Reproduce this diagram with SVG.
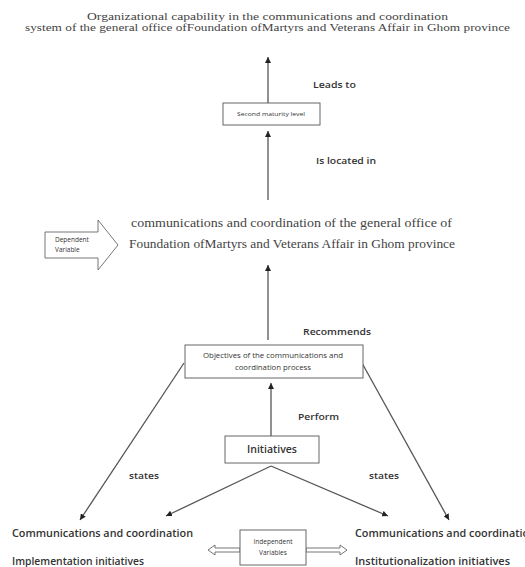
<svg xmlns="http://www.w3.org/2000/svg" width="525" height="567" viewBox="0 0 525 567">
<defs>
<marker id="ah" viewBox="0 0 10 10" refX="10" refY="5" markerWidth="6" markerHeight="6" markerUnits="userSpaceOnUse" orient="auto">
<path d="M0,0 L10,5 L0,10 z" fill="#222"/>
</marker>
<style>
.serif{font-family:"Liberation Serif","DejaVu Serif",serif;font-size:12px;fill:#444}
.title{font-size:10.5px}
.lbl{font-family:"Open Sans","Liberation Sans",sans-serif;font-weight:600;fill:#333}
.small{font-family:"Open Sans","Liberation Sans",sans-serif;fill:#333}
.box{fill:#fff;stroke:#666;stroke-width:1}
.conn{stroke:#555;stroke-width:1.3;fill:none;marker-end:url(#ah)}
.hollow{fill:#fff;stroke:#666;stroke-width:0.9}
</style>
</defs>
<rect width="525" height="567" fill="#fff"/>

<g id="title">
<text class="serif title" x="87" y="19.5" textLength="361" lengthAdjust="spacingAndGlyphs">Organizational capability in the communications and coordination</text>
<text class="serif title" x="25" y="31" textLength="485" lengthAdjust="spacingAndGlyphs">system of the general office ofFoundation ofMartyrs and Veterans Affair in Ghom province</text>
</g>

<g id="connectors">
<line class="conn" x1="268" y1="103" x2="268" y2="57"/>
<line class="conn" x1="268" y1="200" x2="268" y2="131"/>
<line class="conn" x1="268" y1="340" x2="268" y2="265"/>
<line class="conn" x1="271" y1="436" x2="271" y2="383"/>
<line class="conn" x1="184" y1="363" x2="80" y2="520"/>
<line class="conn" x1="362" y1="363" x2="449" y2="520"/>
<line class="conn" x1="271" y1="466" x2="166" y2="516"/>
<line class="conn" x1="271" y1="466" x2="388" y2="516"/>
</g>

<g id="labels">
<text class="lbl" x="313" y="88" font-size="9" textLength="43" lengthAdjust="spacingAndGlyphs">Leads to</text>
<text class="lbl" x="316" y="164" font-size="9" textLength="60" lengthAdjust="spacingAndGlyphs">Is located in</text>
<text class="lbl" x="303" y="335" font-size="9.5" textLength="68" lengthAdjust="spacingAndGlyphs">Recommends</text>
<text class="lbl" x="298" y="420" font-size="9.5" textLength="41" lengthAdjust="spacingAndGlyphs">Perform</text>
<text class="lbl" x="129" y="479" font-size="9" textLength="30" lengthAdjust="spacingAndGlyphs">states</text>
<text class="lbl" x="369" y="479" font-size="9" textLength="30" lengthAdjust="spacingAndGlyphs">states</text>
</g>

<g id="second-maturity">
<rect class="box" x="223" y="103" width="97" height="22"/>
<text class="small" x="271" y="116" font-size="6" text-anchor="middle" textLength="68" lengthAdjust="spacingAndGlyphs">Second maturity level</text>
</g>

<g id="dependent">
<text class="serif" x="131" y="227" textLength="321" lengthAdjust="spacingAndGlyphs">communications and coordination  of the general office of</text>
<text class="serif" x="129" y="248" textLength="326" lengthAdjust="spacingAndGlyphs">Foundation ofMartyrs and Veterans Affair in Ghom province</text>
</g>

<g id="dependent-variable">
<polygon class="hollow" points="45,232 98,232 98,220 118,245 98,270 98,258 45,258"/>
<text class="small" x="55" y="242" font-size="6.5">Dependent</text>
<text class="small" x="55" y="252" font-size="6.5">Variable</text>
</g>

<g id="objectives">
<rect class="box" x="185" y="345" width="178" height="33"/>
<text class="small" x="273" y="358" font-size="6.5" text-anchor="middle" textLength="140" lengthAdjust="spacingAndGlyphs">Objectives of the communications and</text>
<text class="small" x="273" y="370" font-size="6.5" text-anchor="middle" textLength="76" lengthAdjust="spacingAndGlyphs">coordination process</text>
</g>

<g id="initiatives">
<rect class="box" x="225" y="436" width="94" height="27"/>
<text class="lbl" x="272" y="453" font-size="10" font-weight="700" text-anchor="middle" textLength="50" lengthAdjust="spacingAndGlyphs">Initiatives</text>
</g>

<g id="implementation">
<text class="lbl" x="12" y="537" font-size="10" textLength="181" lengthAdjust="spacingAndGlyphs">Communications and coordination</text>
<text class="lbl" x="12" y="565" font-size="10" textLength="132" lengthAdjust="spacingAndGlyphs">Implementation initiatives</text>
</g>

<g id="institutionalization">
<text class="lbl" x="355" y="537" font-size="10" textLength="181" lengthAdjust="spacingAndGlyphs">Communications and coordination</text>
<text class="lbl" x="355" y="565" font-size="10" textLength="155" lengthAdjust="spacingAndGlyphs">Institutionalization initiatives</text>
</g>

<g id="independent-variables">
<polygon class="hollow" points="240,548 215,548 215,545 208,550 215,555 215,552 240,552"/>
<polygon class="hollow" points="306,548 340,548 340,545 347,550 340,555 340,552 306,552"/>
<rect class="box" x="240" y="530" width="66" height="35"/>
<text class="small" x="273" y="544" font-size="6.5" text-anchor="middle">Independent</text>
<text class="small" x="273" y="555" font-size="6.5" text-anchor="middle">Variables</text>
</g>
</svg>
